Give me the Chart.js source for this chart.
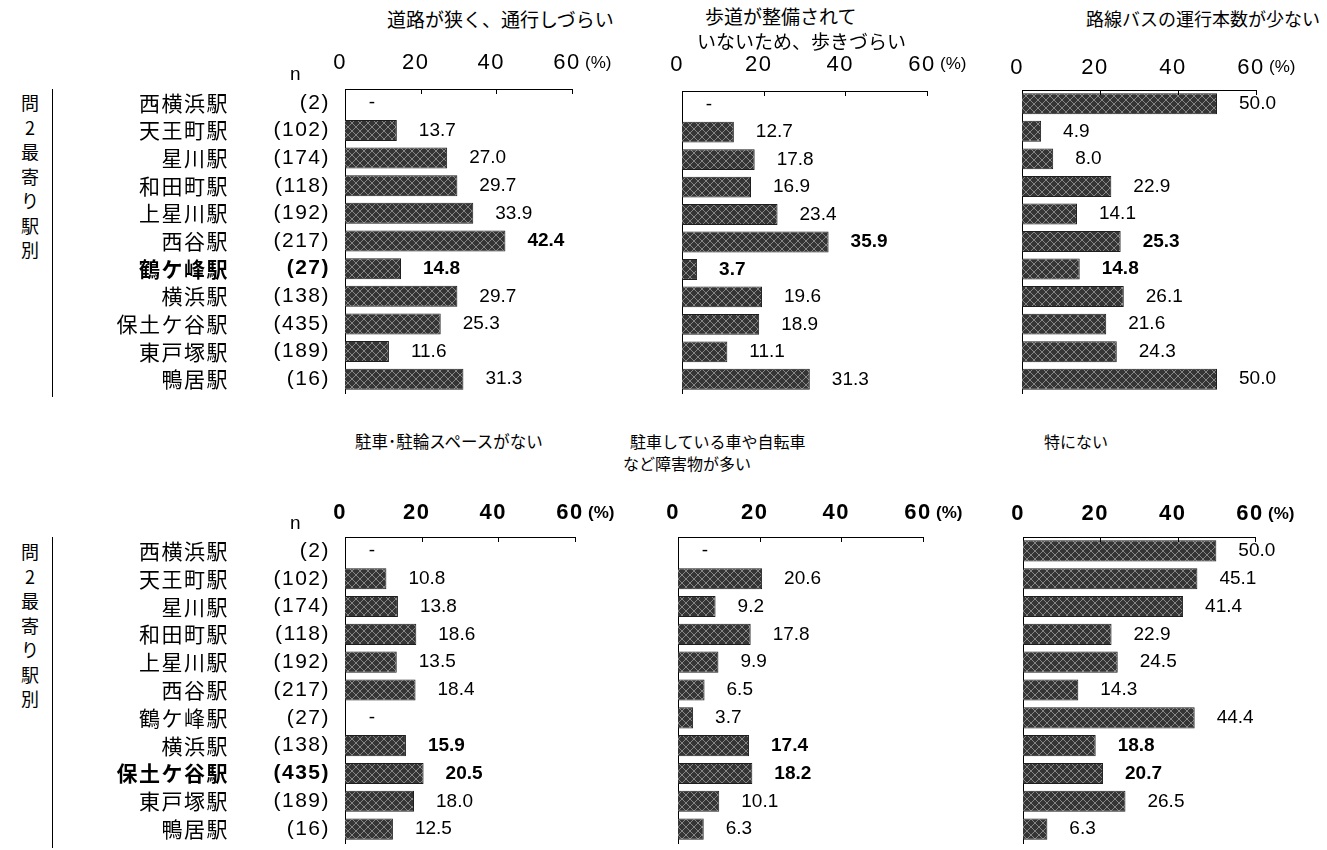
<!DOCTYPE html>
<html>
<head>
<meta charset="utf-8">
<script src="https://cdn.jsdelivr.net/npm/chart.js@4.4.0/dist/chart.umd.min.js"></script>
<style>
  body { margin: 0; width: 1327px; height: 850px; overflow: hidden; background: #fff; position: relative; font-family: "Noto Sans CJK JP", sans-serif; }
  canvas { position: absolute; }
  .t { position: absolute; white-space: nowrap; color: #000; line-height: 1; transform: translateY(-50%); }
  .vert { position: absolute; width: 24px; text-align: center; font-size: 18px; line-height: 24.5px; color: #000; }
  .vline { position: absolute; width: 1px; background: #000; }
</style>
</head>
<body>
<canvas id="c1"></canvas>
<canvas id="c2"></canvas>
<canvas id="c3"></canvas>
<canvas id="c4"></canvas>
<canvas id="c5"></canvas>
<canvas id="c6"></canvas>
<div id="texts"></div>
<script>
// --- data ---
const stations = ['西横浜駅', '天王町駅', '星川駅', '和田町駅', '上星川駅', '西谷駅', '鶴ケ峰駅', '横浜駅', '保土ケ谷駅', '東戸塚駅', '鴨居駅'];
const nValues = [2, 102, 174, 118, 192, 217, 27, 138, 435, 189, 16];
const xTicks = [0, 20, 40, 60];

const narrowRoad   = [null, 13.7, 27.0, 29.7, 33.9, 42.4, 14.8, 29.7, 25.3, 11.6, 31.3];
const noSidewalk   = [null, 12.7, 17.8, 16.9, 23.4, 35.9, 3.7, 19.6, 18.9, 11.1, 31.3];
const fewBuses     = [50.0, 4.9, 8.0, 22.9, 14.1, 25.3, 14.8, 26.1, 21.6, 24.3, 50.0];
const noParking    = [null, 10.8, 13.8, 18.6, 13.5, 18.4, null, 15.9, 20.5, 18.0, 12.5];
const obstacles    = [null, 20.6, 9.2, 17.8, 9.9, 6.5, 3.7, 17.4, 18.2, 10.1, 6.3];
const nothingInPar = [50.0, 45.1, 41.4, 22.9, 24.5, 14.3, 44.4, 18.8, 20.7, 26.5, 6.3];

const nLabels = nValues.map(n => '(' + n + ')');

// crosshatch fill like the original bars
function makePattern() {
    const c = document.createElement('canvas');
    c.width = 8; c.height = 8;
    const g = c.getContext('2d');
    g.fillStyle = '#353535';
    g.fillRect(0, 0, 8, 8);
    g.fillStyle = '#858585';
    for (let i = 0; i < 8; i++) {
        g.fillRect(i, i, 1, 1);
        g.fillRect(7 - i, i, 1, 1);
    }
    return g.createPattern(c, 'repeat');
}
const hatch = makePattern();

const NUM_FONT = '"Liberation Sans", Arial, sans-serif';
const JP_FONT = '"Noto Sans CJK JP", sans-serif';

// the row labels in the original are drawn a little spread out
const spacing = {
    id: 'spacing',
    beforeDraw(chart) { chart.ctx.letterSpacing = '1.5px'; },
    beforeDatasetsDraw(chart) { chart.ctx.letterSpacing = '0px'; }
};

const valueLabels = {
    id: 'valueLabels',
    afterDatasetsDraw(chart, args, opts) {
        const { ctx, scales: { x, y } } = chart;
        const vals = chart.data.datasets[0].data;
        ctx.save();
        ctx.letterSpacing = '0px';
        ctx.fillStyle = '#000';
        ctx.textBaseline = 'middle';
        vals.forEach((v, i) => {
            const py = y.getPixelForValue(i);
            ctx.font = (opts.bold.includes(i) ? 'bold ' : '') + '19px ' + NUM_FONT;
            if (v == null) {
                ctx.textAlign = 'center';
                ctx.fillText('-', x.getPixelForValue(0) + 27, py);
            } else {
                ctx.textAlign = 'left';
                ctx.fillText(v.toFixed(1), x.getPixelForValue(v) + 22, py);
            }
        });
        ctx.restore();
    }
};

const axisMarks = {
    id: 'axisMarks',
    afterDraw(chart, args, opts) {
        const { ctx, chartArea, scales: { x } } = chart;
        ctx.save();
        ctx.letterSpacing = '0px';
        ctx.strokeStyle = '#000';
        ctx.lineWidth = 1;
        xTicks.slice(1).forEach(v => {
            const px = Math.round(x.getPixelForValue(v)) + 0.5;
            ctx.beginPath();
            ctx.moveTo(px, chartArea.top);
            ctx.lineTo(px, chartArea.top + 5);
            ctx.stroke();
        });
        ctx.font = (opts.bold ? 'bold ' : '') + '17px ' + NUM_FONT;
        ctx.fillStyle = '#000';
        ctx.textAlign = 'left';
        ctx.textBaseline = 'middle';
        ctx.fillText('(%)', x.getPixelForValue(60) + 13, chartArea.top - opts.gap);
        ctx.restore();
    }
};

const noPad = s => { s.paddingTop = 0; s.paddingBottom = 0; };

function makePanel(id, values, g, opt) {
    const canvas = document.getElementById(id);
    const leftPad = opt.labels ? 0 : 20;
    const left = opt.labels ? 60 : g.x0 - leftPad;
    const axisH = 50;
    const top = g.top - axisH;
    canvas.style.left = left + 'px';
    canvas.style.top = top + 'px';
    canvas.width = g.x60 + 68 - left;
    canvas.height = g.bottom + 3 - top;
    const gap = g.top - g.labelY;

    const scales = {
        x: {
            type: 'linear', position: 'top', min: 0, max: 60, z: 1,
            grid: { display: false, drawTicks: false },
            border: { display: true, color: '#000', width: 1 },
            ticks: {
                stepSize: 20, labelOffset: -5, padding: gap - 13.2, color: '#000',
                font: { family: NUM_FONT, size: 22, weight: opt.boldTicks ? 'bold' : 'normal' }
            },
            afterFit: s => { s.height = axisH; }
        }
    };
    if (opt.labels) {
        const labelFont = fam => (c => ({ family: fam, size: 21, weight: c.index === opt.boldRow ? 'bold' : 'normal' }));
        scales.y = {
            type: 'category', position: 'left', weight: 1, offset: true,
            grid: { display: false, drawTicks: false },
            border: { display: false },
            ticks: { autoSkip: false, padding: 3, color: '#000', font: labelFont(JP_FONT) },
            afterFit: s => { s.width = 345 - 60 - 113; noPad(s); }
        };
        scales.yN = {
            type: 'category', labels: nLabels, position: 'left', weight: 0, offset: true,
            grid: { display: false, drawTicks: false },
            border: { display: true, color: '#000', width: 1 },
            ticks: { autoSkip: false, padding: 15, color: '#000', font: labelFont(NUM_FONT) },
            afterFit: s => { s.width = 113; noPad(s); }
        };
    } else {
        scales.y = {
            type: 'category', position: 'left', offset: true,
            grid: { display: false, drawTicks: false },
            border: { display: true, color: '#000', width: 1 },
            ticks: { display: false },
            afterFit: s => { s.width = 0; noPad(s); }
        };
    }

    return new Chart(canvas, {
        type: 'bar',
        data: {
            labels: stations,
            datasets: [{
                data: values,
                backgroundColor: hatch,
                borderColor: '#1e1e1e',
                borderWidth: 1,
                barPercentage: 0.76,
                categoryPercentage: 1
            }]
        },
        options: {
            indexAxis: 'y',
            responsive: false,
            animation: false,
            events: [],
            layout: { padding: { left: leftPad, right: 68, top: 0, bottom: 3 } },
            scales: scales,
            plugins: {
                legend: { display: false },
                tooltip: { enabled: false },
                valueLabels: { bold: opt.boldValues },
                axisMarks: { bold: opt.boldTicks, gap: gap }
            }
        },
        plugins: [spacing, valueLabels, axisMarks]
    });
}

makePanel('c1', narrowRoad, { x0: 345, x60: 572, top: 89, bottom: 393, labelY: 63 },
    { labels: true, boldRow: 6, boldTicks: false, boldValues: [5, 6] });
makePanel('c2', noSidewalk, { x0: 682, x60: 927, top: 91, bottom: 393, labelY: 64.5 },
    { labels: false, boldTicks: false, boldValues: [5, 6] });
makePanel('c3', fewBuses, { x0: 1022, x60: 1256, top: 90, bottom: 393, labelY: 67.5 },
    { labels: false, boldTicks: false, boldValues: [5, 6] });
makePanel('c4', noParking, { x0: 347, x60: 575, top: 537, bottom: 843, labelY: 513 },
    { labels: true, boldRow: 8, boldTicks: true, boldValues: [7, 8] });
makePanel('c5', obstacles, { x0: 678, x60: 923, top: 537, bottom: 843, labelY: 513 },
    { labels: false, boldTicks: true, boldValues: [7, 8] });
makePanel('c6', nothingInPar, { x0: 1023, x60: 1255, top: 537, bottom: 843, labelY: 514 },
    { labels: false, boldTicks: true, boldValues: [7, 8] });

// titles and side labels
const texts = document.getElementById('texts');
function addText(str, x, y, size, extra) {
    const d = document.createElement('div');
    d.className = 't';
    d.textContent = str;
    d.style.left = x + 'px';
    d.style.top = y + 'px';
    d.style.fontSize = size + 'px';
    if (extra) Object.assign(d.style, extra);
    texts.appendChild(d);
}
addText('道路が狭く、通行しづらい', 387, 18, 19);
addText('歩道が整備されて', 705, 15, 19);
addText('いないため、歩きづらい', 697, 40, 19);
addText('路線バスの運行本数が少ない', 1086, 18, 18);
addText('駐車･駐輪スペースがない', 355, 441, 16.5);
addText('駐車している車や自転車', 630, 441, 16);
addText('など障害物が多い', 623, 463, 16);
addText('特にない', 1044, 441, 16);
addText('n', 290, 73, 19, { fontFamily: NUM_FONT });
addText('n', 290, 522, 19, { fontFamily: NUM_FONT });

[[90, 89, 397], [539, 537, 848]].forEach(([vt, lt, lb]) => {
    const v = document.createElement('div');
    v.className = 'vert';
    v.style.left = '18px';
    v.style.top = vt + 'px';
    v.innerHTML = '問<br>2<br>最<br>寄<br>り<br>駅<br>別';
    texts.appendChild(v);
    const l = document.createElement('div');
    l.className = 'vline';
    l.style.left = '52px';
    l.style.top = lt + 'px';
    l.style.height = (lb - lt) + 'px';
    texts.appendChild(l);
});
</script>
</body>
</html>
